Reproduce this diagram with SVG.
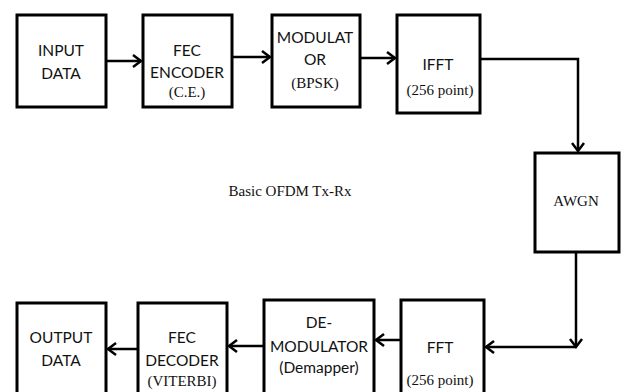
<svg xmlns="http://www.w3.org/2000/svg" width="624" height="392" viewBox="0 0 624 392">
<style>
.box{fill:#fff;stroke:#000;stroke-width:3}
.sans{font-family:Lato,"Liberation Sans",sans-serif;font-size:15.5px;fill:#111;text-anchor:middle}
.serif{font-family:"Liberation Serif",serif;font-size:15px;fill:#111;text-anchor:middle}
.con{fill:none;stroke:#000;stroke-width:2.5}
</style>
<defs>
<marker id="ah" markerUnits="userSpaceOnUse" markerWidth="14" markerHeight="16" refX="10" refY="7" orient="auto">
<path d="M2,1 L10,7 L2,13" fill="none" stroke="#000" stroke-width="2.5"/>
</marker>
</defs>
<rect width="624" height="392" fill="#fff"/>
<g id="input">
<rect class="box" x="17" y="15" width="89" height="92"/>
<text class="sans" x="61" y="56">INPUT</text>
<text class="sans" x="61" y="79">DATA</text>
</g>
<g id="fec-enc">
<rect class="box" x="143" y="15" width="89" height="92"/>
<text class="sans" x="187" y="56">FEC</text>
<text class="sans" x="187" y="78">ENCODER</text>
<text class="serif" x="187" y="97">(C.E.)</text>
</g>
<g id="modulator">
<rect class="box" x="272" y="15" width="88" height="92"/>
<text class="sans" x="315" y="43">MODULAT</text>
<text class="sans" x="315" y="65">OR</text>
<text class="serif" x="315" y="88">(BPSK)</text>
</g>
<g id="ifft">
<rect class="box" x="397" y="15" width="83" height="98"/>
<text class="sans" x="438" y="70">IFFT</text>
<text class="serif" x="440" y="95">(256 point)</text>
</g>
<g id="awgn">
<rect class="box" x="535" y="153" width="84" height="99"/>
<text class="serif" x="576" y="206">AWGN</text>
</g>
<g id="fft">
<rect class="box" x="401" y="300" width="83" height="100"/>
<text class="sans" x="440" y="353">FFT</text>
<text class="serif" x="440" y="385">(256 point)</text>
</g>
<g id="demod">
<rect class="box" x="264" y="300" width="110" height="100"/>
<text class="sans" x="319" y="328">DE-</text>
<text class="sans" x="319" y="352">MODULATOR</text>
<text class="sans" x="319" y="373">(Demapper)</text>
</g>
<g id="fec-dec">
<rect class="box" x="138" y="303" width="89" height="97"/>
<text class="sans" x="182" y="343">FEC</text>
<text class="sans" x="182" y="366">DECODER</text>
<text class="serif" x="182" y="386">(VITERBI)</text>
</g>
<g id="output">
<rect class="box" x="17" y="303" width="89" height="97"/>
<text class="sans" x="61" y="343">OUTPUT</text>
<text class="sans" x="61" y="366">DATA</text>
</g>
<text class="serif" x="290" y="196">Basic OFDM Tx-Rx</text>
<g id="connectors">
<path class="con" d="M106,61 H141" marker-end="url(#ah)"/>
<path class="con" d="M232,57 H270" marker-end="url(#ah)"/>
<path class="con" d="M360,58 H395" marker-end="url(#ah)"/>
<path class="con" d="M480,59 H578 V151" marker-end="url(#ah)"/>
<path class="con" d="M576,252 V347" marker-end="url(#ah)"/>
<path class="con" d="M576,347 H486" marker-end="url(#ah)"/>
<path class="con" d="M401,340 H376" marker-end="url(#ah)"/>
<path class="con" d="M264,346 H229" marker-end="url(#ah)"/>
<path class="con" d="M138,349 H108" marker-end="url(#ah)"/>
</g>
</svg>
